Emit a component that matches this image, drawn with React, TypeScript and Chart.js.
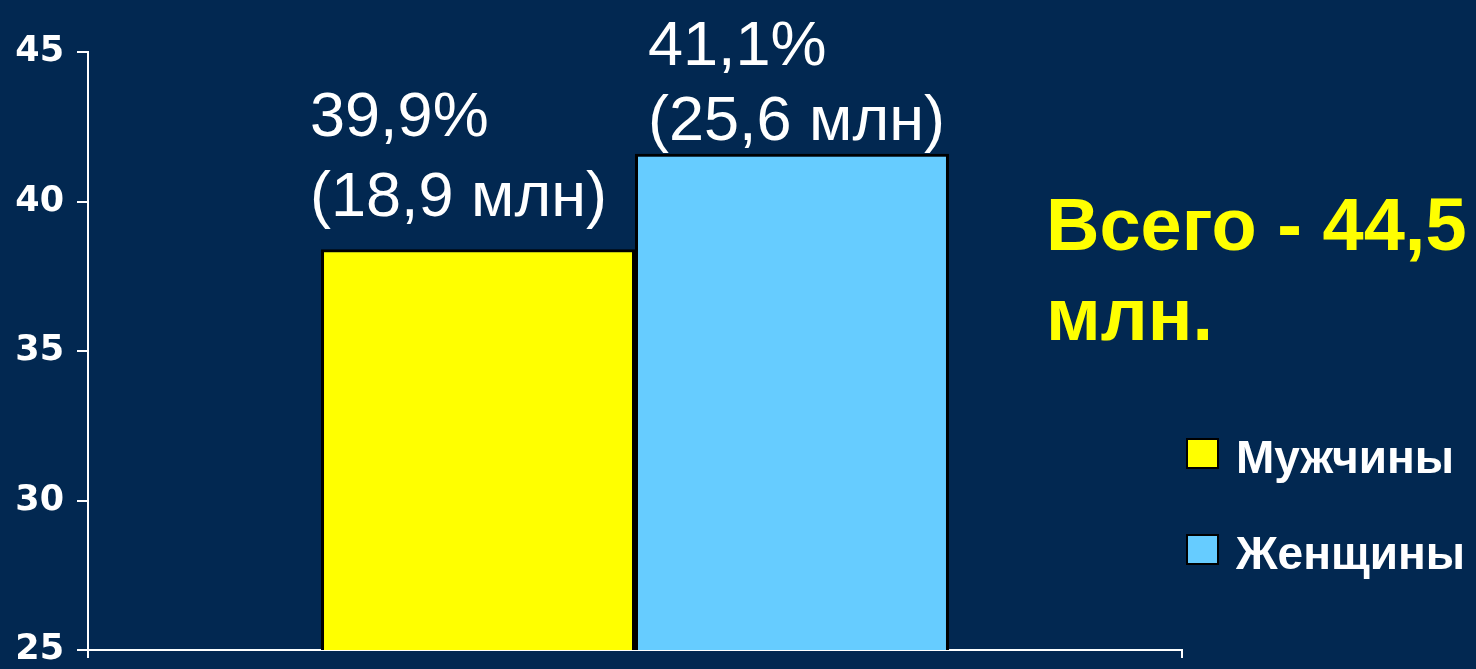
import React, { useEffect, useRef } from "react";
import { Chart, registerables } from "chart.js";

Chart.register(...registerables);

const categories = [""];
const seriesNames = ["Мужчины", "Женщины"];
const seriesValues = [38.4, 41.6];
const seriesColors = ["#FFFF00", "#66CCFF"];
const percentLabels = ["39,9%", "41,1%"];
const countLabels = ["(18,9 млн)", "(25,6 млн)"];
const totalLines = ["Всего - 44,5", "млн."];
const yMin = 25;
const yMax = 45;
const yStep = 5;

const BG = "#022851";

const overlayPlugin = {
  id: "overlay",
  afterDraw(chart: any) {
    const ctx = chart.ctx;
    const area = chart.chartArea;
    ctx.save();
    // value labels above bars
    ctx.fillStyle = "#FFFFFF";
    ctx.font = "63px 'Liberation Sans', Arial, sans-serif";
    ctx.textAlign = "left";
    ctx.textBaseline = "alphabetic";
    const offs = [
      { dx: -11, l1: -113, l2: -33 },
      { dx: 13, l1: -89, l2: -14 },
    ];
    seriesValues.forEach((_, i) => {
      const bar = chart.getDatasetMeta(i).data[0];
      if (!bar) return;
      const left = bar.x - bar.width / 2;
      const o = offs[i];
      ctx.fillText(percentLabels[i], left + o.dx, bar.y + o.l1);
      ctx.fillText(countLabels[i], left + o.dx, bar.y + o.l2);
    });
    // total text
    ctx.fillStyle = "#FFFF00";
    ctx.font = "bold 74px 'Liberation Sans', Arial, sans-serif";
    ctx.fillText(totalLines[0], area.right - 136, 250);
    ctx.fillText(totalLines[1], area.right - 136, 340);
    // legend
    const rows = [438, 534];
    seriesNames.forEach((name, i) => {
      const bx = area.right + 4;
      const by = rows[i];
      ctx.fillStyle = seriesColors[i];
      ctx.fillRect(bx, by, 33, 31);
      ctx.lineWidth = 2;
      ctx.strokeStyle = "#000000";
      ctx.strokeRect(bx + 1, by + 1, 31, 29);
      ctx.fillStyle = "#FFFFFF";
      ctx.font = "bold 46px 'Liberation Sans', Arial, sans-serif";
      ctx.fillText(name, bx + 50, by + 35);
    });
    ctx.restore();
  },
};

export default function App() {
  const ref = useRef<HTMLCanvasElement | null>(null);
  useEffect(() => {
    if (!ref.current) return;
    const chart = new Chart(ref.current, {
      type: "bar",
      data: {
        labels: categories,
        datasets: seriesNames.map((name, i) => ({
          label: name,
          data: [seriesValues[i]],
          backgroundColor: seriesColors[i],
          borderColor: "#000000",
          borderWidth: 3,
          categoryPercentage: 0.574,
          barPercentage: 1,
        })),
      },
      options: {
        animation: false,
        responsive: false,
        devicePixelRatio: 1,
        layout: { padding: { top: 52, right: 294, bottom: 0, left: 0 } },
        plugins: {
          legend: { display: false },
          tooltip: { enabled: false },
        },
        scales: {
          x: {
            ticks: { display: false },
            grid: {
              drawOnChartArea: false,
              drawTicks: true,
              tickLength: 8,
              color: "#FFFFFF",
              lineWidth: 2,
            },
            border: { color: "#FFFFFF", width: 2 },
            afterFit: (scale: any) => {
              scale.height = 19;
              scale.paddingLeft = 0;
              scale.paddingRight = 0;
            },
          },
          y: {
            min: yMin,
            max: yMax,
            ticks: {
              stepSize: yStep,
              color: "#FFFFFF",
              padding: 13,
              font: { family: "'DejaVu Sans'", size: 35, weight: "bold" },
            },
            grid: {
              drawOnChartArea: false,
              drawTicks: true,
              tickLength: 11,
              color: "#FFFFFF",
              lineWidth: 2,
            },
            border: { color: "#FFFFFF", width: 2 },
            afterFit: (scale: any) => {
              scale.width = 88;
              scale.paddingTop = 0;
              scale.paddingBottom = 0;
            },
          },
        },
      },
      plugins: [overlayPlugin],
    });
    return () => chart.destroy();
  }, []);
  return (
    <div
      style={{
        position: "fixed",
        left: 0,
        top: 0,
        width: 1476,
        height: 669,
        background: BG,
      }}
    >
      <canvas ref={ref} width={1476} height={669} style={{ display: "block" }} />
    </div>
  );
}
